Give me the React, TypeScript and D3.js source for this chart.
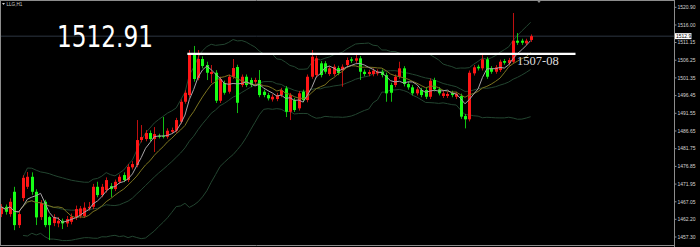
import React from 'react';
import * as d3 from 'd3';

const W = 700;
const H = 247;

const symbolLabel = 'LLG,H1';
const lastPrice = 1512.91;
const resistance = 1508;
const resistanceLabel = '1507-08';
const axisTicks = [
  1520.9, 1516.0, 1511.15, 1506.25, 1501.35, 1496.45, 1491.55, 1486.65, 1481.75, 1476.85, 1471.95, 1467.05,
  1462.2, 1457.3,
];

// Hourly bars, oldest first
const opens = [
  1463.64, 1465.66, 1463.64, 1469.82, 1460.59, 1468.07, 1471.2, 1473.97, 1469.82, 1462.81, 1467.05, 1462.81,
  1461.15, 1461.07, 1461.79, 1461.07, 1461.51, 1462.81, 1463.2, 1463.09, 1465.2, 1465.66, 1471.2, 1468.91,
  1470.29, 1471.4, 1470.57, 1472.59, 1474.45, 1473.06, 1476.58, 1477.22, 1484.14, 1484.42, 1486.08, 1484.42,
  1485.33, 1485.33, 1485.05, 1486.44, 1486.72, 1489.21, 1494.75, 1496.6, 1508.24, 1501.31, 1506.58, 1504.92,
  1502.42, 1502.78, 1495.03, 1499.93, 1497.52, 1501.67, 1504.36, 1499.38, 1501.67, 1500.76, 1500.29, 1500.76,
  1497.52, 1496.6, 1495.41, 1495.5, 1496.6, 1498.46, 1491.98, 1495.22, 1492.92, 1497.52, 1495.22, 1501.67,
  1502.14, 1505.39, 1505.39, 1502.42, 1502.42, 1504.08, 1503.53, 1504.92, 1506.49, 1506.11, 1506.77, 1503.06,
  1502.42, 1502.42, 1502.6, 1503.06, 1502.14, 1499.38, 1499.38, 1501.67, 1504.0, 1499.65, 1498.74, 1497.08,
  1497.99, 1497.99, 1496.13, 1500.76, 1498.18, 1496.35, 1496.35, 1497.18, 1496.13, 1496.35, 1490.79, 1489.88,
  1502.61, 1504.44, 1504.0, 1506.49, 1504.0, 1503.06, 1503.53, 1506.02, 1505.39, 1505.83, 1511.65, 1511.65,
  1510.93, 1511.86,
];
const highs = [
  1466.4, 1466.3, 1468.0, 1471.2, 1464.5, 1474.4, 1475.3, 1475.2, 1470.5, 1467.5, 1467.6, 1463.2,
  1463.6, 1462.8, 1462.4, 1463.1, 1463.8, 1466.0, 1465.9, 1466.9, 1467.0, 1472.0, 1472.6, 1472.0,
  1473.8, 1472.23, 1473.2, 1474.6, 1475.2, 1477.5, 1478.3, 1489.68, 1488.3, 1486.9, 1486.8, 1487.74,
  1485.9, 1490.51, 1487.4, 1487.6, 1490.3, 1495.4, 1497.9, 1509.07, 1510.2, 1509.07, 1507.3, 1505.83,
  1504.92, 1503.5, 1501.7, 1500.6, 1502.3, 1506.58, 1505.0, 1502.3, 1502.3, 1501.4, 1501.4, 1503.53,
  1498.1, 1497.2, 1496.8, 1497.2, 1498.6, 1499.1, 1497.2, 1495.8, 1497.7, 1498.1, 1502.3, 1509.07,
  1507.5, 1506.0, 1506.0, 1504.6, 1505.1, 1504.7, 1505.1, 1507.0, 1507.1, 1507.7, 1507.4, 1503.7,
  1503.6, 1504.0, 1503.7, 1503.7, 1502.8, 1500.0, 1502.3, 1505.83, 1504.6, 1500.3, 1499.4, 1498.8,
  1498.6, 1498.6, 1501.2, 1501.4, 1498.8, 1497.7, 1497.5, 1497.8, 1497.5, 1497.0, 1491.4, 1503.4,
  1504.9, 1505.0, 1508.16, 1507.1, 1504.6, 1504.9, 1506.4, 1506.6, 1506.9, 1519.32, 1513.78, 1512.2,
  1512.2, 1513.4,
];
const lows = [
  1462.8, 1463.5, 1462.9, 1459.2, 1459.8, 1467.2, 1470.6, 1469.0, 1460.6, 1462.0, 1460.0, 1456.44,
  1460.3, 1460.0, 1459.5, 1460.1, 1460.8, 1462.0, 1462.5, 1462.6, 1464.6, 1465.0, 1468.3, 1468.3,
  1469.6, 1468.35, 1470.0, 1472.0, 1472.5, 1472.5, 1476.0, 1476.6, 1483.5, 1483.8, 1483.8, 1480.84,
  1484.6, 1484.6, 1484.5, 1486.0, 1486.2, 1488.7, 1494.2, 1495.9, 1500.3, 1500.7, 1504.0, 1500.76,
  1499.93, 1494.4, 1494.4, 1496.7, 1497.0, 1501.1, 1491.62, 1498.8, 1498.8, 1498.8, 1499.7, 1496.0,
  1496.0, 1495.1, 1494.8, 1494.9, 1496.0, 1490.51, 1489.68, 1491.9, 1492.3, 1494.6, 1494.6, 1501.1,
  1501.5, 1501.5, 1502.5, 1501.9, 1501.9, 1502.1, 1498.9, 1504.3, 1505.5, 1505.5, 1500.76, 1501.8,
  1501.8, 1501.8, 1502.0, 1501.5, 1494.75, 1494.75, 1498.8, 1501.1, 1499.0, 1498.1, 1496.5, 1496.5,
  1496.0, 1495.5, 1495.5, 1497.6, 1496.5, 1495.8, 1495.8, 1496.0, 1495.5, 1490.0, 1487.38, 1489.3,
  1502.0, 1503.4, 1503.4, 1501.1, 1502.5, 1502.5, 1503.0, 1505.0, 1504.8, 1505.3, 1510.5, 1510.5,
  1510.4, 1511.3,
];
const closes = [
  1465.66, 1464.28, 1467.05, 1460.59, 1463.64, 1473.7, 1473.97, 1469.82, 1462.73, 1466.69, 1460.59, 1460.59,
  1462.81, 1461.79, 1461.07, 1462.26, 1462.89, 1465.03, 1465.2, 1465.41, 1465.66, 1471.2, 1468.91, 1471.2,
  1473.06, 1470.57, 1472.59, 1473.97, 1473.06, 1476.74, 1477.49, 1484.14, 1484.97, 1486.08, 1484.42, 1485.8,
  1485.05, 1485.05, 1486.72, 1486.91, 1489.68, 1494.75, 1497.24, 1508.16, 1501.04, 1506.58, 1504.64, 1502.78,
  1502.98, 1495.03, 1501.04, 1497.24, 1501.67, 1504.08, 1494.47, 1501.67, 1499.38, 1499.38, 1500.76, 1496.6,
  1496.6, 1495.69, 1496.13, 1496.6, 1497.99, 1491.98, 1496.6, 1492.45, 1497.08, 1495.22, 1501.67, 1507.21,
  1506.77, 1502.14, 1503.06, 1504.0, 1504.44, 1502.7, 1504.44, 1506.3, 1506.11, 1506.77, 1503.06, 1502.42,
  1502.98, 1503.34, 1503.06, 1502.14, 1497.08, 1497.24, 1501.67, 1504.0, 1499.65, 1498.74, 1497.08, 1498.18,
  1496.6, 1496.13, 1500.56, 1498.18, 1497.08, 1497.08, 1496.9, 1496.6, 1496.9, 1490.62, 1489.88, 1502.78,
  1504.28, 1504.0, 1506.49, 1501.67, 1503.06, 1504.28, 1505.83, 1505.55, 1506.3, 1511.65, 1511.09, 1511.09,
  1511.65, 1512.91,
];

const UP = '#ff1616';
const DOWN = '#16ff16';
const MA_FAST = '#a8a4a8';
const MA_SLOW = '#7c7420';
const BAND = '#234530';

type Pt = { i: number; v: number };

function movingAverage(period: number, minCount: number): Pt[] {
  const out: Pt[] = [];
  closes.forEach((_, i) => {
    const win = closes.slice(Math.max(0, i - period + 1), i + 1);
    if (win.length >= minCount) out.push({ i, v: d3.mean(win) as number });
  });
  return out;
}

function bollinger(period: number, k: number, minCount: number) {
  const upper: Pt[] = [];
  const middle: Pt[] = [];
  const lower: Pt[] = [];
  closes.forEach((_, i) => {
    const win = closes.slice(Math.max(0, i - period + 1), i + 1);
    if (win.length < minCount) return;
    const m = d3.mean(win) as number;
    const sd = Math.sqrt(d3.mean(win, (c) => (c - m) * (c - m)) as number);
    upper.push({ i, v: m + k * sd });
    middle.push({ i, v: m });
    lower.push({ i, v: m - k * sd });
  });
  return { upper, middle, lower };
}

export default function App() {
  const plotRight = 674.5;
  const plotBottom = 245.5;

  const x = d3.scaleLinear().domain([0, closes.length - 1]).range([1.2, 530.6]);
  const y = d3.scaleLinear().domain([1457.3, 1520.9]).range([237, 7.3]);

  const line = d3
    .line<Pt>()
    .x((d) => x(d.i))
    .y((d) => y(d.v));

  const fast = movingAverage(5, 1);
  const slow = movingAverage(10, 1);
  const bb = bollinger(20, 2, 6);

  const bodyW = 3;

  return (
    <svg
      width={W}
      height={H}
      style={{ position: 'absolute', left: 0, top: 0, background: '#000', display: 'block' }}
      fontFamily="'Liberation Sans', Arial, sans-serif"
    >
      <rect x={0} y={0} width={W} height={H} fill="#000" />
      <defs>
        <clipPath id="plot">
          <rect x={0.5} y={0.5} width={plotRight - 0.5} height={plotBottom - 0.5} />
        </clipPath>
      </defs>

      <g clipPath="url(#plot)">
        {/* last price line */}
        <line x1={0} x2={plotRight} y1={y(lastPrice)} y2={y(lastPrice)} stroke="#2c3642" strokeWidth={1} />

        {/* Bollinger bands */}
        {[bb.upper, bb.middle, bb.lower].map((pts, k) => (
          <path key={k} d={line(pts) || ''} fill="none" stroke={BAND} strokeWidth={1} />
        ))}

        {/* candles */}
        {closes.map((c, i) => {
          const o = opens[i];
          const up = c >= o;
          const col = up ? UP : DOWN;
          const cx = Math.round(x(i)) + 0.5;
          const top = y(Math.max(o, c));
          const bot = y(Math.min(o, c));
          return (
            <g key={i}>
              <line x1={cx} x2={cx} y1={y(highs[i])} y2={y(lows[i])} stroke={col} strokeWidth={1} opacity={0.75} />
              <rect x={cx - bodyW / 2} y={top} width={bodyW} height={Math.max(1, bot - top)} fill={col} />
            </g>
          );
        })}

        {/* moving averages */}
        <path d={line(slow) || ''} fill="none" stroke={MA_SLOW} strokeWidth={1} />
        <path d={line(fast) || ''} fill="none" stroke={MA_FAST} strokeWidth={1} />

        {/* resistance level */}
        <line
          x1={x(43) - 2}
          x2={575.5}
          y1={y(resistance)}
          y2={y(resistance)}
          stroke="#ffffff"
          strokeWidth={2.4}
        />
        <text
          x={x(117) + 4}
          y={y(resistance) + 11}
          fill="#dcdcdc"
          fontSize={12.5}
          fontFamily="'Liberation Serif', 'Times New Roman', serif"
        >
          {resistanceLabel}
        </text>
      </g>

      {/* big price readout */}
      <text
        x={57}
        y={46.5}
        fill="#ffffff"
        fontSize={31}
        fontFamily="'Liberation Sans Narrow', 'DejaVu Sans Condensed', 'Liberation Sans', sans-serif"
        textLength={96}
        lengthAdjust="spacingAndGlyphs"
      >
        {lastPrice.toFixed(2)}
      </text>

      {/* symbol caption */}
      <path d="M2,3 L5,3 L3.5,5 Z" fill="#cfcfcf" />
      <text x={6.5} y={5.8} fill="#cfcfcf" fontSize={4.6}>
        {symbolLabel}
      </text>

      {/* chart shift marker */}
      <path d="M537,0.5 L541,0.5 L539,3 Z" fill="#8a8a8a" />

      {/* frame */}
      <line x1={0.5} x2={0.5} y1={0} y2={plotBottom} stroke="#8c8c8c" />
      <line x1={0} x2={plotRight} y1={0.5} y2={0.5} stroke="#8c8c8c" />
      <line x1={0} x2={plotRight} y1={plotBottom} y2={plotBottom} stroke="#8c8c8c" />
      <line x1={plotRight} x2={plotRight} y1={0} y2={H} stroke="#8c8c8c" />

      {/* price axis */}
      {axisTicks.map((t) => (
        <g key={t}>
          <line x1={plotRight} x2={plotRight + 2} y1={y(t)} y2={y(t)} stroke="#8c8c8c" />
          <text x={677.5} y={y(t) + 1.8} fill="#d4d4d4" fontSize={5}>
            {t.toFixed(2)}
          </text>
        </g>
      ))}
      <rect x={675} y={y(lastPrice) - 3} width={16.5} height={6} fill="#ffffff" />
      <text x={676} y={y(lastPrice) + 1.8} fill="#000" fontSize={5}>
        {lastPrice.toFixed(2)}
      </text>
    </svg>
  );
}
